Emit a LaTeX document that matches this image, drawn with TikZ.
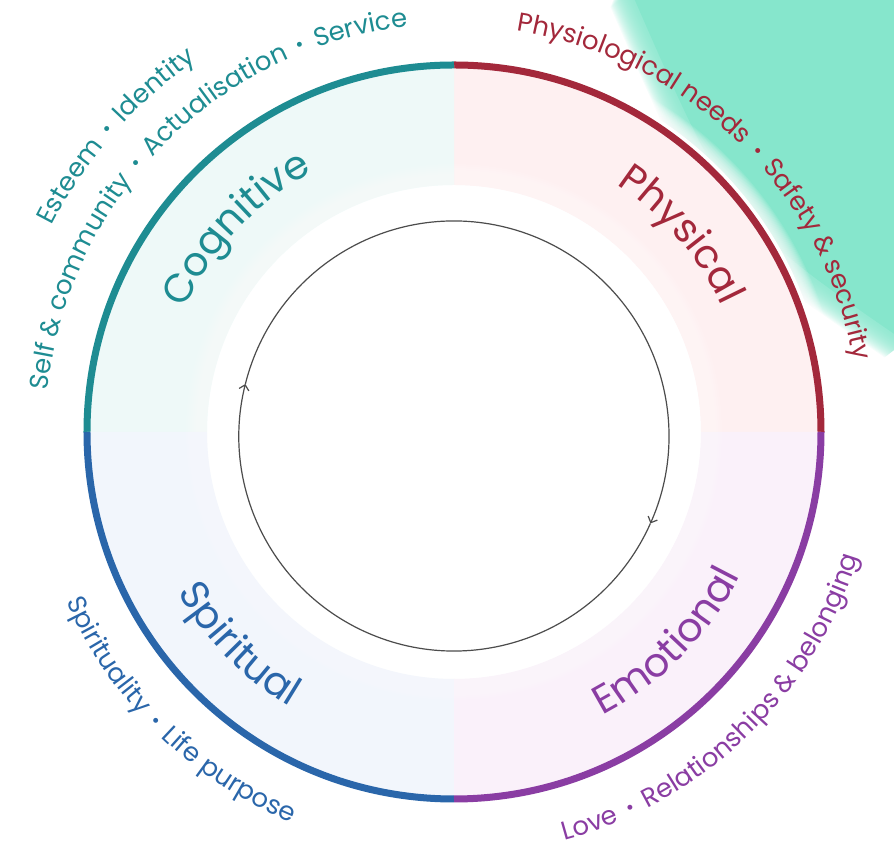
\documentclass[tikz,border=0pt]{standalone}
\usepackage{fontspec}
\setmainfont{Poppins}
\usetikzlibrary{arrows.meta,decorations.text}

\definecolor{cogteal}{HTML}{1E8C92}
\definecolor{physred}{HTML}{A3283B}
\definecolor{spirblue}{HTML}{2A66AA}
\definecolor{emopurple}{HTML}{8A3DA3}
\definecolor{cogfill}{HTML}{EEF9F8}
\definecolor{physfill}{HTML}{FEF0F1}
\definecolor{spirfill}{HTML}{F2F6FC}
\definecolor{emofill}{HTML}{FAF1FA}
\definecolor{mintblob}{HTML}{86E6CC}

\newcommand{\smallfont}{\fontsize{13}{15}\selectfont}
\newcommand{\bigfont}{\fontsize{20}{24}\selectfont}
\newcommand{\sep}{\hspace{5.5pt}\raisebox{0.8pt}{\fontsize{10}{10}\selectfont •}\hspace{5.5pt}}

\begin{document}
\begin{tikzpicture}[>={Straight Barb[length=2.5pt,width=5pt]},
  arclabel/.style 2 args={decorate, decoration={text along path, text align=center, text color=#1, text={|\smallfont|#2}}},
  bandlabel/.style 2 args={decorate, decoration={text along path, text align=center, text color=#1, text={|\bigfont|#2}}}]
  \useasboundingbox (-227pt,-208.5pt) rectangle (220pt,216pt);

  % mint blob, top right, with a soft white halo round the ring
  \begin{scope}
    \clip (-227pt,-208.5pt) rectangle (220pt,216pt);
    \foreach \d in {-6,-5.5,...,6}
      \fill[mintblob, opacity=0.08, shift={(0.785*\d pt,0.619*\d pt)}]
        (83pt,216pt) .. controls (133.5pt,100.5pt) .. (220pt,41pt)
        -- (320pt,120pt) -- (320pt,320pt) -- (120pt,320pt) -- cycle;
    \fill[mintblob, shift={(5.5pt,4.3pt)}]
      (83pt,216pt) .. controls (133.5pt,100.5pt) .. (220pt,41pt)
      -- (320pt,120pt) -- (320pt,320pt) -- (120pt,320pt) -- cycle;
    \foreach \r in {186,186.5,...,194}
      \fill[white, opacity=0.1] (0,0) circle[radius=\r pt];
    \fill[white] (0,0) circle[radius=187pt];
  \end{scope}

  % quarters of the ring
  \foreach \a/\c/\f in {0/physred/physfill,90/cogteal/cogfill,180/spirblue/spirfill,270/emopurple/emofill}{
    \fill[\f] (\a:123.5pt) arc[start angle=\a, end angle=\a+90, radius=123.5pt]
      -- (\a+90:183.5pt) arc[start angle=\a+90, end angle=\a, radius=183.5pt] -- cycle;
    \draw[\c, line width=3.5pt] (\a:183.5pt) arc[start angle=\a, end angle=\a+90, radius=183.5pt];
  }
  % soft inner edge of the band
  \foreach \r in {124,125,...,134}
    \fill[white, opacity=0.09] (0,0) circle[radius=\r pt];

  % inner cycle
  \begin{scope}[yshift=-2pt]
    \coordinate (loopL) at (166:107.5pt);
    \coordinate (loopR) at (-24:107.5pt);
    \draw[->, black!70, line width=0.6pt] (loopL) arc[start angle=166, end angle=-24, radius=107.5pt];
    \draw[->, black!70, line width=0.6pt] (loopR) arc[start angle=-24, end angle=-194, radius=107.5pt];
  \end{scope}

  % band labels
  \path[bandlabel={cogteal}{Cognitive}] (197:148pt) arc[start angle=197, end angle=77, radius=148pt];
  \path[bandlabel={physred}{Physical}] (101:148pt) arc[start angle=101, end angle=-19, radius=148pt];
  \path[bandlabel={spirblue}{Spiritual}] (164.7:160pt) arc[start angle=164.7, end angle=284.7, radius=160pt];
  \path[bandlabel={emopurple}{Emotional}] (255.5:160pt) arc[start angle=255.5, end angle=375.5, radius=160pt];

  % outer labels
  \path[arclabel={physred}{Physiological needs{\sep}Safety {\&} security}] (105.6:203pt) arc[start angle=105.6, end angle=-14.4, radius=203pt];
  \path[arclabel={cogteal}{Self {\&} community{\sep}Actualisation{\sep}Service}] (195.3:204pt) arc[start angle=195.3, end angle=75.3, radius=204pt];
  \path[arclabel={cogteal}{Esteem{\sep}Identity}] (198.8:226pt) arc[start angle=198.8, end angle=78.8, radius=226pt];
  \path[arclabel={spirblue}{Spirituality{\sep}Life purpose}] (165.5:211.5pt) arc[start angle=165.5, end angle=285.5, radius=211.5pt];
  \path[arclabel={emopurple}{Love{\sep}Relationships {\&} belonging}] (254:211.5pt) arc[start angle=254, end angle=374, radius=211.5pt];
\end{tikzpicture}
\end{document}
